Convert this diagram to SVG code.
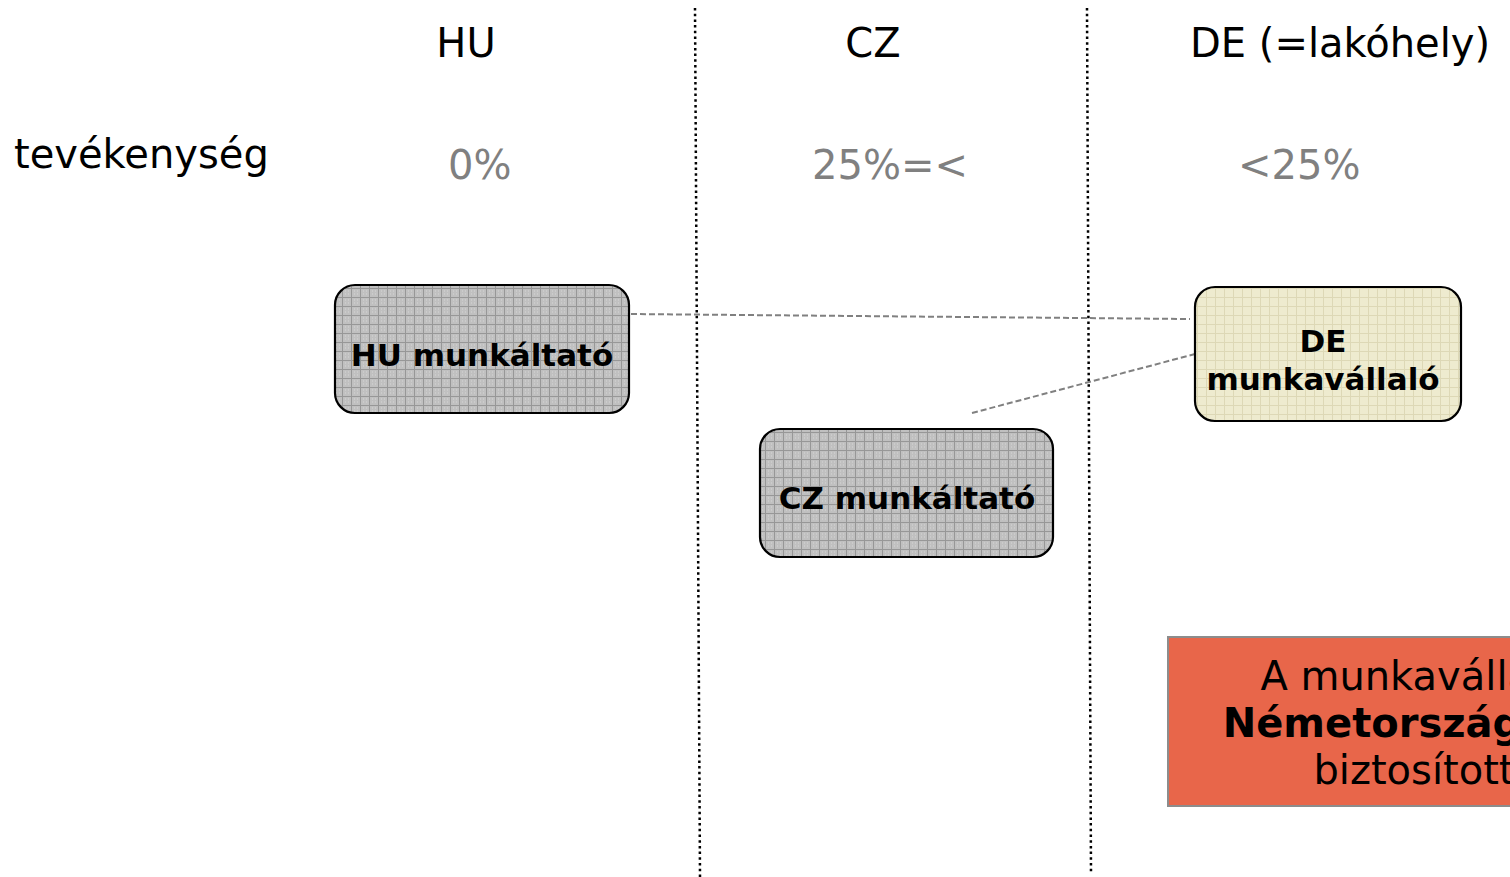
<svg xmlns="http://www.w3.org/2000/svg" width="1510" height="877" viewBox="0 0 1510 877">
<style>
  text { font-family: "DejaVu Sans", Verdana, sans-serif; }
  .hdr { font-size: 40px; fill: #000; }
  .pct { font-size: 40px; fill: #808080; }
  .lbl { font-size: 31px; font-weight: bold; fill: #000; text-anchor: middle; }
  .node { stroke: #000; stroke-width: 2.2; }
  .sep { stroke: #000; stroke-width: 2.5; stroke-dasharray: 2.5 3.2; fill: none; }
  .conn { stroke: #808080; stroke-width: 2; stroke-dasharray: 6 3; fill: none; }
  .note { font-size: 40px; fill: #000; text-anchor: middle; }
</style>
<defs>
  <pattern id="grayGrid" width="9" height="9" patternUnits="userSpaceOnUse">
    <rect width="9" height="9" fill="#c0c0c0"/>
    <path d="M0 0.5H9M0.5 0V9" stroke="#979797" stroke-width="1"/>
    <path d="M3 3h1M6 6h1M3 6h1M6 3h1" stroke="#d6d6d6" stroke-width="1"/>
  </pattern>
  <pattern id="beigeGrid" width="9" height="9" patternUnits="userSpaceOnUse">
    <rect width="9" height="9" fill="#eeebcf"/>
    <path d="M0 0.5H9M0.5 0V9" stroke="#ddd8b6" stroke-width="1"/>
  </pattern>
</defs>
<rect width="1510" height="877" fill="#fff"/>

<g id="separators">
  <line class="sep" x1="695" y1="8" x2="700" y2="877"/>
  <line class="sep" x1="1087" y1="8" x2="1091" y2="873"/>
</g>

<g id="headers">
  <text class="hdr" x="466" y="57" text-anchor="middle">HU</text>
  <text class="hdr" x="873" y="57" text-anchor="middle">CZ</text>
  <text class="hdr" x="1190" y="57">DE (=lakóhely)</text>
  <text class="hdr" x="14" y="168">tevékenység</text>
  <text class="pct" x="448" y="179">0%</text>
  <text class="pct" x="812" y="179">25%=&lt;</text>
  <text class="pct" x="1238" y="179">&lt;25%</text>
</g>

<g id="connectors">
  <line class="conn" x1="631" y1="314" x2="1190" y2="319"/>
  <line class="conn" x1="972" y1="413" x2="1195" y2="354"/>
</g>

<g id="hu-employer">
  <rect class="node" x="335" y="285" width="294" height="128" rx="20" fill="url(#grayGrid)"/>
  <text class="lbl" x="482" y="366">HU munkáltató</text>
</g>

<g id="cz-employer">
  <rect class="node" x="760" y="429" width="293" height="128" rx="20" fill="url(#grayGrid)"/>
  <text class="lbl" x="907" y="509">CZ munkáltató</text>
</g>

<g id="de-employee">
  <rect class="node" x="1195" y="287" width="266" height="134" rx="20" fill="url(#beigeGrid)"/>
  <text class="lbl" x="1323" y="352">DE</text>
  <text class="lbl" x="1323" y="390">munkavállaló</text>
</g>

<g id="note">
  <rect x="1168" y="637" width="420" height="169" fill="#e8664a" stroke="#8c8c8c" stroke-width="2"/>
  <text class="note" x="1414" y="690">A munkavállaló</text>
  <text class="note" x="1414" y="737" font-weight="bold">Németországban</text>
  <text class="note" x="1414" y="784">biztosított</text>
</g>
</svg>
